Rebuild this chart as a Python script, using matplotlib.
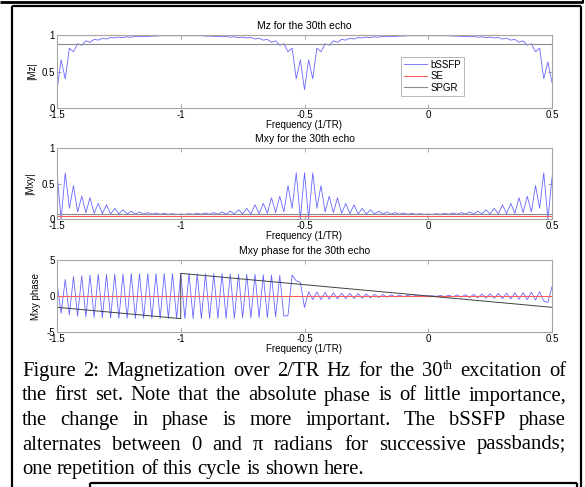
import numpy as np
import matplotlib
matplotlib.use('Agg')
import matplotlib.pyplot as plt
from matplotlib.lines import Line2D

plt.rcParams['font.family'] = 'Liberation Sans'
plt.rcParams['font.size'] = 7
plt.rcParams['axes.unicode_minus'] = False

# frequency samples (1/TR)
freq = np.linspace(-1.5, 0.5, 121)
freq_ends = [-1.5, 0.5]

# |Mz|
mz_bssfp = [0.25, 0.66, 0.40, 0.82, 0.77, 0.88, 0.86, 0.92, 0.90, 0.94,
            0.93, 0.955, 0.945, 0.965, 0.96, 0.97, 0.965, 0.975, 0.97, 0.98,
            0.975, 0.98, 0.98, 0.985, 0.985, 0.99, 0.99, 0.99, 0.99, 0.99,
            0.99, 0.99, 0.99, 0.99, 0.99, 0.99, 0.985, 0.985, 0.98, 0.98,
            0.975, 0.98, 0.97, 0.975, 0.965, 0.97, 0.96, 0.965, 0.945, 0.955,
            0.93, 0.94, 0.90, 0.92, 0.86, 0.88, 0.77, 0.82, 0.40, 0.66,
            0.25, 0.66, 0.40, 0.82, 0.77, 0.88, 0.86, 0.92, 0.90, 0.94,
            0.93, 0.955, 0.945, 0.965, 0.96, 0.97, 0.965, 0.975, 0.97, 0.98,
            0.975, 0.98, 0.98, 0.985, 0.985, 0.99, 0.99, 0.99, 0.99, 0.99,
            0.99, 0.99, 0.99, 0.99, 0.99, 0.99, 0.985, 0.985, 0.98, 0.98,
            0.975, 0.98, 0.97, 0.975, 0.965, 0.97, 0.96, 0.965, 0.945, 0.955,
            0.93, 0.94, 0.90, 0.92, 0.86, 0.88, 0.77, 0.82, 0.40, 0.63,
            0.35]
mz_se = [0.995, 0.995]
mz_spgr = [0.88, 0.88]

# |Mxy|
mxy_bssfp = [0.65, 0.0, 0.65, 0.15, 0.47, 0.10, 0.32, 0.09, 0.30, 0.08,
             0.22, 0.075, 0.20, 0.07, 0.15, 0.07, 0.13, 0.07, 0.11, 0.068,
             0.10, 0.068, 0.09, 0.067, 0.085, 0.066, 0.08, 0.066, 0.075, 0.065,
             0.07, 0.065, 0.075, 0.066, 0.08, 0.066, 0.085, 0.067, 0.09, 0.068,
             0.10, 0.068, 0.11, 0.07, 0.13, 0.07, 0.15, 0.07, 0.20, 0.075,
             0.22, 0.08, 0.30, 0.09, 0.32, 0.10, 0.47, 0.15, 0.65, 0.0,
             0.65, 0.0, 0.65, 0.15, 0.47, 0.10, 0.32, 0.09, 0.30, 0.08,
             0.22, 0.075, 0.20, 0.07, 0.15, 0.07, 0.13, 0.07, 0.11, 0.068,
             0.10, 0.068, 0.09, 0.067, 0.085, 0.066, 0.08, 0.066, 0.075, 0.065,
             0.07, 0.065, 0.075, 0.066, 0.08, 0.066, 0.085, 0.067, 0.09, 0.068,
             0.10, 0.068, 0.11, 0.07, 0.13, 0.07, 0.15, 0.07, 0.20, 0.075,
             0.22, 0.08, 0.30, 0.09, 0.32, 0.10, 0.47, 0.15, 0.65, 0.0,
             0.58]
mxy_se = [0.047, 0.047]
mxy_spgr = [0.075, 0.075]

# Mxy phase
ph_bssfp = [1.8, -2.4, 2.3, -2.6, 2.7, -2.8, 2.8, -2.9, 2.9, -3.0,
            3.0, -3.05, 3.0, -3.05, 3.05, -3.1, 3.05, -3.1, 3.1, -3.1,
            3.1, -3.1, 3.1, -3.12, 3.1, -3.12, 3.12, -3.12, 3.12, -3.12,
            3.12, -3.12, 3.12, -3.12, 3.1, -3.12, 3.1, -3.1, 3.1, -3.1,
            3.1, -3.1, 3.05, -3.1, 3.05, -3.05, 3.0, -3.05, 3.0, -3.0,
            2.95, -3.0, 2.9, -2.9, 2.85, -2.8, -2.7, 2.9, 2.1, 1.9,
            -1.6, 0.6, -0.5, 0.55, -0.5, 0.5, -0.45, 0.45, -0.4, 0.4,
            -0.38, 0.36, -0.34, 0.32, -0.3, 0.28, -0.26, 0.24, -0.22, 0.2,
            -0.18, 0.16, -0.14, 0.12, -0.1, 0.08, -0.06, 0.05, -0.03, 0.02,
            0.0, 0.03, -0.05, 0.07, -0.09, 0.11, -0.13, 0.15, -0.17, 0.19,
            -0.21, 0.23, -0.25, 0.27, -0.29, 0.31, -0.33, 0.35, -0.37, 0.39,
            -0.41, 0.43, -0.45, 0.47, -0.5, 0.52, -0.55, 0.6, -0.7, -0.9,
            1.3]
ph_se = [0.0, 0.0]
ph_spgr_freq = [-1.5, -1.0, -1.0, 0.5]
ph_spgr = [-1.57, -3.14, 3.14, -1.57]

xticks = [-1.5, -1, -0.5, 0, 0.5]
xticklabels = ['-1.5', '-1', '-0.5', '0', '0.5']

# '^' marks a superscript part of a word
caption_lines = [
    'Figure 2: Magnetization over 2/TR Hz for the 30^th excitation of',
    'the first set. Note that the absolute phase is of little importance,',
    'the change in phase is more important. The bSSFP phase',
    'alternates between 0 and \u03c0 radians for successive passbands;',
    'one repetition of this cycle is shown here.',
]

W, H = 585, 487
fig = plt.figure(figsize=(W / 100, H / 100), dpi=100)

blue = '#6666ff'
red = '#ff5c5c'
gray = '#8c8c8c'
frame = '#a6a6a6'


def px_box(left, top, right, bottom):
    return [left / W, 1 - bottom / H, (right - left) / W, (bottom - top) / H]


def style(ax, ylim, yticks, ylabels):
    ax.set_xlim(-1.5, 0.5)
    ax.set_ylim(*ylim)
    ax.set_xticks(xticks)
    ax.set_xticklabels(xticklabels)
    ax.set_yticks(yticks)
    ax.set_yticklabels(ylabels)
    ax.tick_params(direction='in', length=3, width=0.7, color=frame,
                   top=True, right=True, pad=1.5, labelsize=7)
    for s in ax.spines.values():
        s.set_color(frame)
        s.set_linewidth(0.8)
    ax.set_xlabel('Frequency (1/TR)', fontsize=7)
    ax.xaxis.set_label_coords(0.5, -0.17)


ax1 = fig.add_axes(px_box(57, 35, 552, 108))
ax1.plot(freq, mz_bssfp, color=blue, lw=0.6, label='bSSFP')
ax1.plot(freq_ends, mz_se, color=red, lw=0.8, label='SE')
ax1.plot(freq_ends, mz_spgr, color=gray, lw=0.8, label='SPGR')
style(ax1, (0, 1), [0, 0.5, 1], ['0', '0.5', '1'])
ax1.set_ylabel('|Mz|', fontsize=7)
ax1.yaxis.set_label_coords(-0.041, 0.5)
ax1.set_title('Mz for the 30th echo', fontsize=7.5, pad=4)
leg = ax1.legend(loc='upper left', bbox_to_anchor=(0.695, 0.70), borderaxespad=0,
                 fontsize=7, frameon=True, fancybox=False, edgecolor=frame,
                 handlelength=2.4, handletextpad=0.3, labelspacing=0.15,
                 borderpad=0.3)
leg.get_frame().set_linewidth(0.7)

ax2 = fig.add_axes(px_box(57, 148, 552, 219))
ax2.plot(freq, mxy_bssfp, color=blue, lw=0.6)
ax2.plot(freq_ends, mxy_se, color=red, lw=0.8)
ax2.plot(freq_ends, mxy_spgr, color=gray, lw=0.8)
style(ax2, (0, 1), [0, 0.5, 1], ['0', '0.5', '1'])
ax2.set_ylabel('|Mxy|', fontsize=7)
ax2.yaxis.set_label_coords(-0.045, 0.5)
ax2.set_title('Mxy for the 30th echo', fontsize=7.5, pad=4)

ax3 = fig.add_axes(px_box(57, 260, 552, 332))
ax3.plot(freq, ph_bssfp, color=blue, lw=0.6)
ax3.plot(freq_ends, ph_se, color=red, lw=0.8)
ax3.plot(ph_spgr_freq, ph_spgr, color='#404040', lw=0.7)
style(ax3, (-5, 5), [-5, 0, 5], ['-5', '0', '5'])
ax3.set_ylabel('Mxy phase', fontsize=7)
ax3.yaxis.set_label_coords(-0.032, 0.5)
ax3.set_title('Mxy phase for the 30th echo', fontsize=7.5, pad=4)


# page frame lines
def page_line(xs, ys, lw):
    fig.add_artist(Line2D([x / W for x in xs], [1 - y / H for y in ys],
                          color='black', lw=lw, solid_capstyle='butt'))


page_line([0, 583], [2, 2], 2.0)
page_line([583, 583], [0, 3], 1.5)
page_line([12, 581], [6, 6], 1.6)
page_line([12, 12], [6, 487], 1.6)
page_line([581, 581], [6, 487], 1.6)
page_line([90, 577], [483, 483], 1.6)
page_line([90, 90], [483, 487], 1.6)
page_line([577, 577], [483, 487], 1.6)

# caption, justified
renderer = fig.canvas.get_renderer()
cap_size = 14.9
serif = 'Liberation Serif'
left, right = 22, 566
baselines = [376, 400.5, 425, 449.5, 474]


def make_word(word, yb):
    # returns list of (text, dx) pieces and total width
    parts = word.split('^')
    pieces = []
    x = 0
    t = fig.text(0, 1 - yb / H, parts[0], fontsize=cap_size, family=serif,
                 va='baseline', ha='left')
    pieces.append((t, 0))
    x += t.get_window_extent(renderer).width
    if len(parts) > 1:
        s = fig.text(0, 1 - (yb - 7) / H, parts[1], fontsize=cap_size * 0.62,
                     family=serif, va='baseline', ha='left')
        pieces.append((s, x))
        x += s.get_window_extent(renderer).width
    return pieces, x


sp = fig.text(0, 0, 'a a', fontsize=cap_size, family=serif)
sp2 = fig.text(0, 0, 'aa', fontsize=cap_size, family=serif)
space_w = sp.get_window_extent(renderer).width - sp2.get_window_extent(renderer).width
sp.remove()
sp2.remove()

for i, (line, yb) in enumerate(zip(caption_lines, baselines)):
    words = [make_word(w, yb) for w in line.split(' ')]
    total = sum(w for _, w in words)
    if i < len(caption_lines) - 1:
        gap = (right - left - total) / (len(words) - 1)
    else:
        gap = space_w
    x = left
    for pieces, w in words:
        for t, dx in pieces:
            t.set_x((x + dx) / W)
        x += w + gap

fig.savefig('out.png', dpi=100)
